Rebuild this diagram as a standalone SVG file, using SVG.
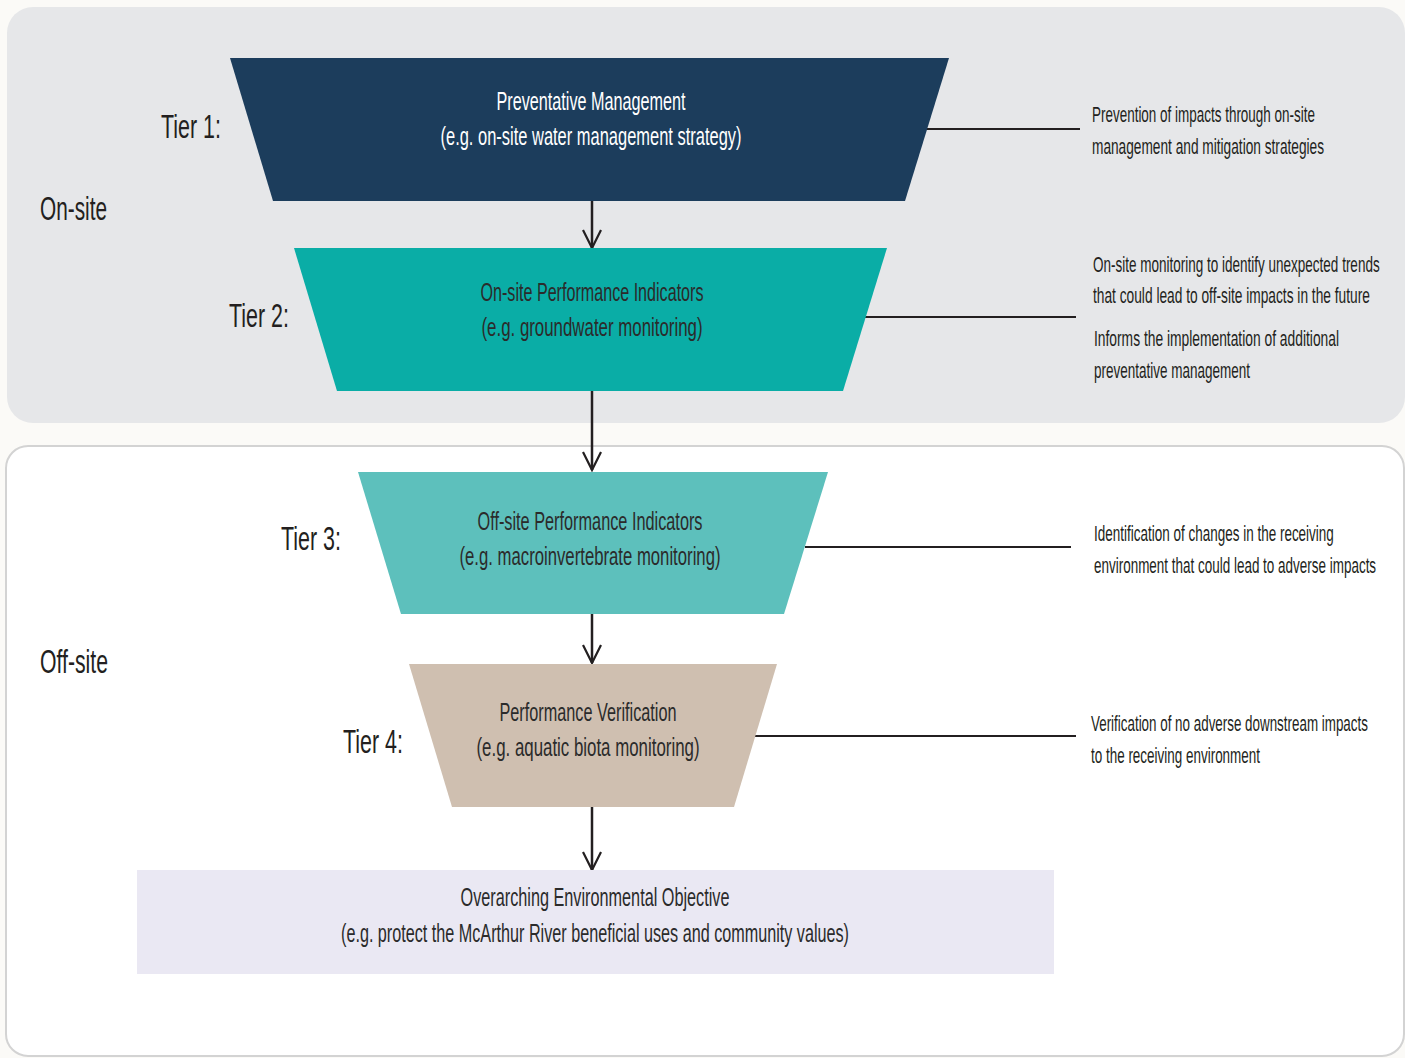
<svg xmlns="http://www.w3.org/2000/svg" width="1405" height="1058" viewBox="0 0 1405 1058">
  <defs>
    <!-- open V arrowhead, tip at the end of the line -->
    <marker id="arrow" viewBox="0 0 20 20" refX="19" refY="10" markerWidth="20" markerHeight="20" markerUnits="userSpaceOnUse" orient="auto" overflow="visible">
      <path d="M1,1 L19,10 L1,19" fill="none" stroke="#231f20" stroke-width="2.2" stroke-linejoin="miter"/>
    </marker>
  </defs>
  <style>
    text { font-family: "Liberation Sans", Arial, sans-serif; }
    .tier { font-size: 34px; fill: #231f20; }
    .zone { font-size: 34px; fill: #231f20; }
    .node { font-size: 25px; text-anchor: middle; }
    .light { fill: #ffffff; }
    .dark { fill: #2b2b2b; }
    .note { font-size: 22px; fill: #231f20; }
    .lead { stroke: #231f20; stroke-width: 2; fill: none; }
    .flow { stroke: #231f20; stroke-width: 2.5; fill: none; marker-end: url(#arrow); }
  </style>

  <!-- page background -->
  <rect x="0" y="0" width="1405" height="1058" fill="#fbfaf7"/>

  <!-- on-site zone panel -->
  <g id="zone-onsite">
    <rect x="7" y="7" width="1398" height="416" rx="26" ry="26" fill="#e6e7e9"/>
    <text class="zone" x="40" y="220" textLength="67" lengthAdjust="spacingAndGlyphs">On-site</text>
  </g>

  <!-- off-site zone panel -->
  <g id="zone-offsite">
    <rect x="6" y="446" width="1398" height="610" rx="22" ry="22" fill="#ffffff" stroke="#d3d3d3" stroke-width="2"/>
    <text class="zone" x="40" y="673" textLength="68" lengthAdjust="spacingAndGlyphs">Off-site</text>
  </g>

  <!-- connectors -->
  <g id="connectors">
    <line class="flow" x1="592" y1="201" x2="592" y2="248"/>
    <line class="flow" x1="592" y1="391" x2="592" y2="470"/>
    <line class="flow" x1="592" y1="614" x2="592" y2="663"/>
    <line class="flow" x1="592" y1="807" x2="592" y2="870"/>
    <line class="lead" x1="926" y1="129" x2="1080" y2="129"/>
    <line class="lead" x1="864" y1="317" x2="1076" y2="317"/>
    <line class="lead" x1="805" y1="547" x2="1071" y2="547"/>
    <line class="lead" x1="752" y1="736" x2="1076" y2="736"/>
  </g>

  <!-- tier 1 -->
  <g id="tier1">
    <polygon points="230,58 949,58 905,201 273,201" fill="#1c3d5c"/>
    <text class="tier" x="161" y="138" textLength="60" lengthAdjust="spacingAndGlyphs">Tier 1:</text>
    <text class="node light" x="591" y="110" textLength="189" lengthAdjust="spacingAndGlyphs">Preventative Management</text>
    <text class="node light" x="591" y="145" textLength="301" lengthAdjust="spacingAndGlyphs">(e.g. on-site water management strategy)</text>
    <!-- side notes are drawn narrowed to the condensed face -->
    <g transform="translate(1092,0) scale(0.65,1)">
      <text class="note" x="0" y="122" textLength="343" lengthAdjust="spacingAndGlyphs">Prevention of impacts through on-site</text>
      <text class="note" x="0" y="154" textLength="357" lengthAdjust="spacingAndGlyphs">management and mitigation strategies</text>
    </g>
  </g>

  <!-- tier 2 -->
  <g id="tier2">
    <polygon points="294,248 887,248 843,391 337,391" fill="#0aada6"/>
    <text class="tier" x="229" y="327" textLength="60" lengthAdjust="spacingAndGlyphs">Tier 2:</text>
    <text class="node dark" x="592" y="301" textLength="223" lengthAdjust="spacingAndGlyphs">On-site Performance Indicators</text>
    <text class="node dark" x="592" y="336" textLength="221" lengthAdjust="spacingAndGlyphs">(e.g. groundwater monitoring)</text>
    <g transform="translate(1093,0) scale(0.65,1)">
      <text class="note" x="0" y="272" textLength="441" lengthAdjust="spacingAndGlyphs">On-site monitoring to identify unexpected trends</text>
      <text class="note" x="0" y="303" textLength="426" lengthAdjust="spacingAndGlyphs">that could lead to off-site impacts in the future</text>
      <text class="note" x="1.5" y="346" textLength="377" lengthAdjust="spacingAndGlyphs">Informs the implementation of additional</text>
      <text class="note" x="1.5" y="378" textLength="240" lengthAdjust="spacingAndGlyphs">preventative management</text>
    </g>
  </g>

  <!-- tier 3 -->
  <g id="tier3">
    <polygon points="358,472 828,472 784,614 401,614" fill="#5dc0bc"/>
    <text class="tier" x="281" y="550" textLength="60" lengthAdjust="spacingAndGlyphs">Tier 3:</text>
    <text class="node dark" x="590" y="530" textLength="225" lengthAdjust="spacingAndGlyphs">Off-site Performance Indicators</text>
    <text class="node dark" x="590" y="565" textLength="261" lengthAdjust="spacingAndGlyphs">(e.g. macroinvertebrate monitoring)</text>
    <g transform="translate(1094,0) scale(0.65,1)">
      <text class="note" x="0" y="541" textLength="369" lengthAdjust="spacingAndGlyphs">Identification of changes in the receiving</text>
      <text class="note" x="0" y="573" textLength="434" lengthAdjust="spacingAndGlyphs">environment that could lead to adverse impacts</text>
    </g>
  </g>

  <!-- tier 4 -->
  <g id="tier4">
    <polygon points="409,664 777,664 734,807 452,807" fill="#cfbfb0"/>
    <text class="tier" x="343" y="753" textLength="60" lengthAdjust="spacingAndGlyphs">Tier 4:</text>
    <text class="node dark" x="588" y="721" textLength="177" lengthAdjust="spacingAndGlyphs">Performance Verification</text>
    <text class="node dark" x="588" y="756" textLength="223" lengthAdjust="spacingAndGlyphs">(e.g. aquatic biota monitoring)</text>
    <g transform="translate(1091,0) scale(0.65,1)">
      <text class="note" x="0" y="731" textLength="426" lengthAdjust="spacingAndGlyphs">Verification of no adverse downstream impacts</text>
      <text class="note" x="0" y="763" textLength="260" lengthAdjust="spacingAndGlyphs">to the receiving environment</text>
    </g>
  </g>

  <!-- overarching objective -->
  <g id="objective">
    <rect x="137" y="870" width="917" height="104" fill="#eae8f3"/>
    <text class="node dark" x="595" y="906" textLength="269" lengthAdjust="spacingAndGlyphs">Overarching Environmental Objective</text>
    <text class="node dark" x="595" y="942" textLength="508" lengthAdjust="spacingAndGlyphs">(e.g. protect the McArthur River beneficial uses and community values)</text>
  </g>
</svg>
